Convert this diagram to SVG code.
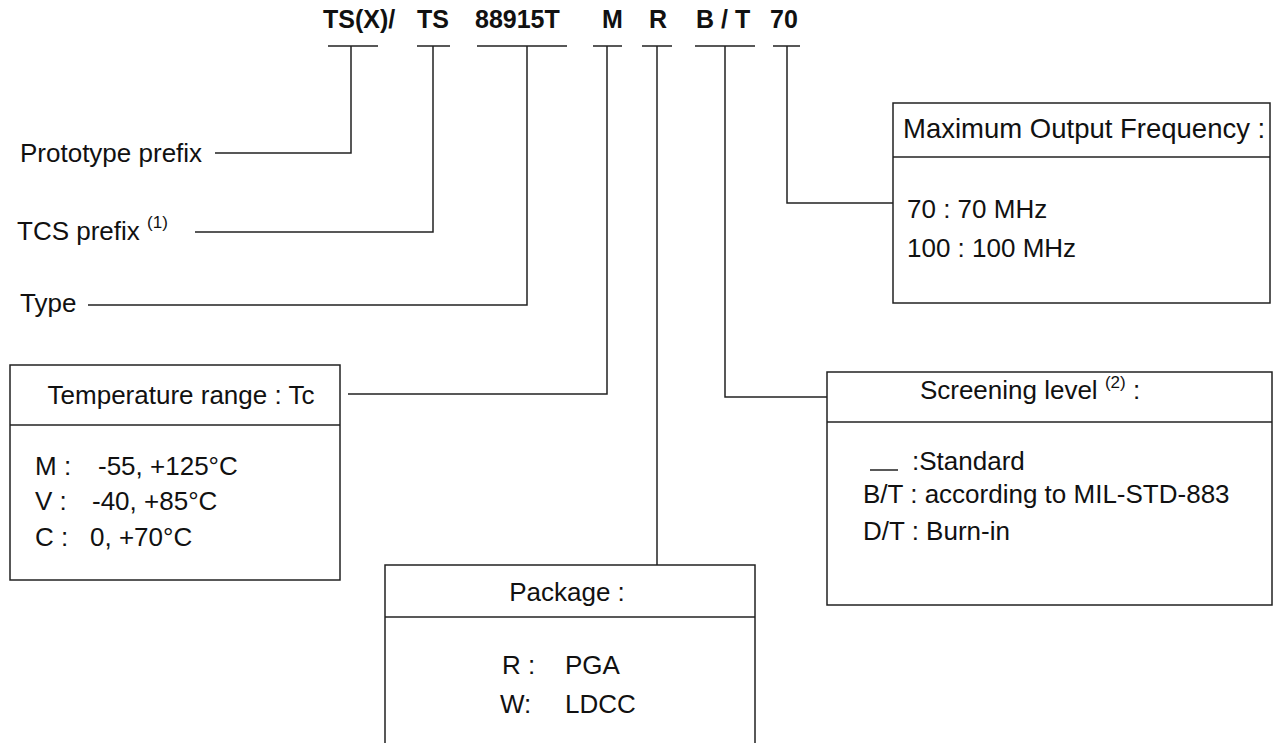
<svg xmlns="http://www.w3.org/2000/svg" width="1278" height="743" viewBox="0 0 1278 743">
<style>
.t{font-family:"Liberation Sans",Arial,Helvetica,sans-serif;font-size:26px;fill:#111}
.h{font-weight:bold;font-size:25px}
.sup{font-size:17px}
.ttl{font-size:27.5px}
.ln{stroke:#222;stroke-width:1.5;fill:none}
.box{fill:#fff;stroke:#222;stroke-width:1.5}
</style>
<rect width="1278" height="743" fill="#fff"/>
<g id="code">
<text class="t h" x="323" y="28">TS(X)/</text>
<text class="t h" x="417" y="28">TS</text>
<text class="t h" x="475" y="28">88915T</text>
<text class="t h" x="602" y="28">M</text>
<text class="t h" x="649" y="28">R</text>
<text class="t h" x="696" y="28">B / T</text>
<text class="t h" x="770" y="28">70</text>
<path class="ln" d="M328 46H378M417 46H450M477 46H567M593 46H622M642 46H672M695 46H755M773 46H800"/>
</g>
<g id="connectors">
<polyline class="ln" points="351,46 351,153 215,153"/>
<polyline class="ln" points="433,46 433,232 195,232"/>
<polyline class="ln" points="527,46 527,305 88,305"/>
<polyline class="ln" points="607,46 607,394 348,394"/>
<polyline class="ln" points="657,46 657,565"/>
<polyline class="ln" points="725,46 725,397 827,397"/>
<polyline class="ln" points="787,46 787,203 893,203"/>
</g>
<g id="prototype">
<text class="t" x="20" y="162">Prototype prefix</text>
</g>
<g id="tcs">
<text class="t" x="17" y="240">TCS prefix <tspan class="sup" dy="-12">(1)</tspan></text>
</g>
<g id="type">
<text class="t" x="20" y="312">Type</text>
</g>
<g id="temperature">
<rect class="box" x="10" y="365" width="330" height="215"/>
<line class="ln" x1="10" y1="425" x2="340" y2="425"/>
<text class="t" x="181" y="404" text-anchor="middle">Temperature range : Tc</text>
<text class="t" x="35" y="475">M :</text><text class="t" x="98" y="475">-55, +125°C</text>
<text class="t" x="35" y="510">V :</text><text class="t" x="92" y="510">-40, +85°C</text>
<text class="t" x="35" y="546">C :</text><text class="t" x="90" y="546">0, +70°C</text>
</g>
<g id="package">
<rect class="box" x="385" y="565" width="370" height="190"/>
<line class="ln" x1="385" y1="617" x2="755" y2="617"/>
<text class="t" x="567" y="601" text-anchor="middle">Package :</text>
<text class="t" x="502" y="674">R :</text><text class="t" x="565" y="674">PGA</text>
<text class="t" x="500" y="713">W:</text><text class="t" x="565" y="713">LDCC</text>
</g>
<g id="screening">
<rect class="box" x="827" y="372" width="445" height="233"/>
<line class="ln" x1="827" y1="422" x2="1272" y2="422"/>
<text class="t" x="1030" y="399" text-anchor="middle">Screening level <tspan class="sup" dy="-11">(2)</tspan><tspan dy="11"> :</tspan></text>
<line class="ln" x1="870" y1="470" x2="898" y2="470"/>
<text class="t" x="912" y="470">:Standard</text>
<text class="t" x="863" y="503">B/T : according to MIL-STD-883</text>
<text class="t" x="863" y="540">D/T : Burn-in</text>
</g>
<g id="frequency">
<rect class="box" x="893" y="103" width="377" height="200"/>
<line class="ln" x1="893" y1="157" x2="1270" y2="157"/>
<text class="t ttl" x="903" y="138">Maximum Output Frequency :</text>
<text class="t" x="907" y="218">70 : 70 MHz</text>
<text class="t" x="907" y="257">100 : 100 MHz</text>
</g>
</svg>
